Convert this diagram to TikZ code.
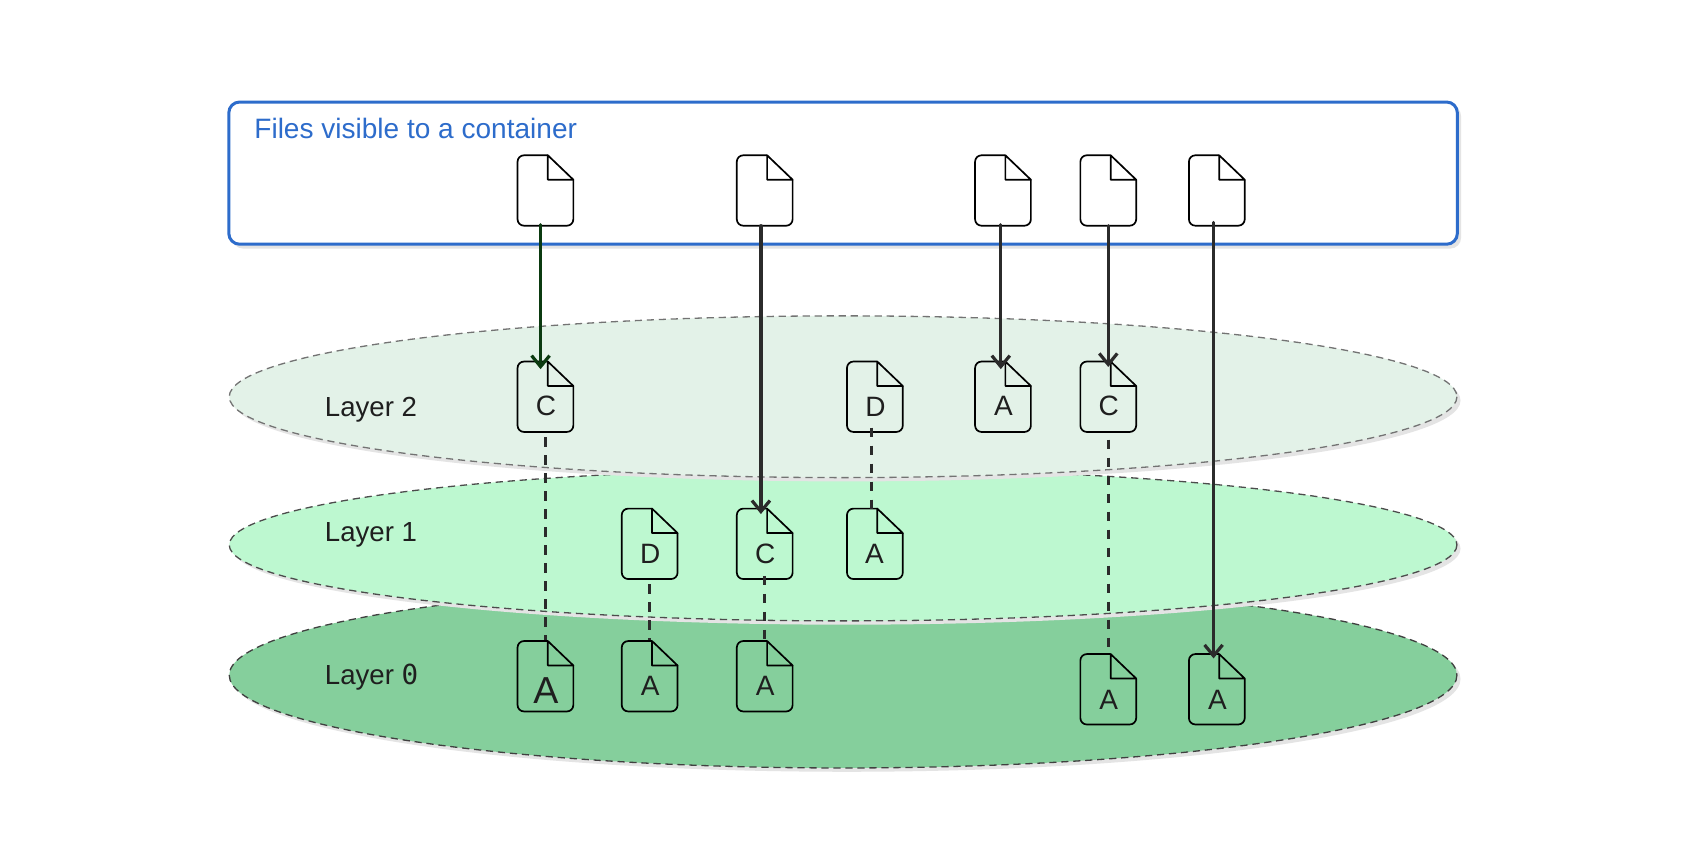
\documentclass[tikz,border=0pt]{standalone}
\usepackage{fontspec}
\setmainfont{Liberation Sans}
\newfontfamily\zeromono{DejaVu Sans Mono}
\usetikzlibrary{arrows.meta,calc}
\definecolor{boxblue}{HTML}{2D6CCB}
\definecolor{inkdark}{HTML}{2B2B2B}
\definecolor{inkgreen}{HTML}{0B3A10}
\definecolor{layertwo}{HTML}{E3F2E8}
\definecolor{layerone}{HTML}{BDF8D0}
\definecolor{layerzero}{HTML}{85CF9C}
\definecolor{softshadow}{HTML}{E4E4E4}
\tikzset{
  x=0.54275pt,y=-0.54275pt,
  filecore/.style={inner sep=0pt,outer sep=0pt,minimum width=27.9pt,minimum height=35.2pt,draw=none},
  fileline/.style={draw=black,line width=0.85pt,rounded corners=3.2pt,line join=round},
  foldline/.style={draw=black,line width=0.85pt,line join=round},
  letter/.style={font=\fontsize{14pt}{16pt}\selectfont,text=black!88,inner sep=0pt},
  bigletter/.style={font=\fontsize{18.8pt}{20pt}\selectfont,text=black!88,inner sep=0pt},
  layerlabel/.style={font=\fontsize{13.8pt}{16pt}\selectfont,text=black!88,inner sep=0pt,anchor=base west},
  arrowline/.style={draw=inkdark,line width=1.6pt,line cap=round,-{Straight Barb[length=5.5pt,width=9pt,line width=1.6pt]}},
  greenarrow/.style={arrowline,draw=inkgreen},
  dashline/.style={draw=inkdark,line width=1.6pt,dash pattern=on 4.8pt off 4.2pt},
  layerdisc/.style={line width=0.65pt,dash pattern=on 3.6pt off 2.4pt},
}
\newcommand{\filedoc}[3]{%
  \node[filecore] (#1) at (#2,#3) {};
  \draw[fileline] ($(#1.north east)+(-23.5,0)$) -- (#1.north west) -- (#1.south west) -- (#1.south east) -- ($(#1.north east)+(0,22.5)$);
  \draw[foldline] ($(#1.north east)+(0,22.5)$) -- ($(#1.north east)+(-23.5,0)$) -- ($(#1.north east)+(-23.5,22.5)$) -- cycle;
}
\begin{document}
\begin{tikzpicture}
\useasboundingbox[fill=white] (0,0) rectangle (1568.9,794.1);
% container box
\fill[softshadow,rounded corners=5.4pt] (214,97) rectangle (1346,229);
\node[draw=boxblue,fill=white,line width=1.5pt,rounded corners=5.4pt,minimum width=614.3pt,minimum height=71.1pt,inner sep=0pt] (box) at (776.7,159.5) {};
\node[font=\fontsize{14.02pt}{16pt}\selectfont,text=boxblue,inner sep=0pt,anchor=base west] (boxtitle) at (234,127.5) {Files visible to a container};
% layers
\fill[softshadow] (780,625.5) ellipse [x radius=565.5,y radius=85.5];
\path[fill=layerzero,draw=black!75,layerdisc] (776.7,622) ellipse [x radius=565.5,y radius=85.5];
\fill[softshadow] (780,505.5) ellipse [x radius=565.5,y radius=70];
\path[fill=layerone,draw=black!70,layerdisc] (776.7,502) ellipse [x radius=565.5,y radius=70];
\fill[softshadow] (780,369) ellipse [x radius=565.5,y radius=74.5];
\path[fill=layertwo,draw=black!55,layerdisc] (776.7,365.5) ellipse [x radius=565.5,y radius=74.5];
\node[layerlabel] (ltwo) at (299,384) {Layer 2};
\node[layerlabel] (lone) at (299,498.5) {Layer 1};
\node[layerlabel] (lzero) at (299,630.5) {Layer {\zeromono\fontsize{13.8pt}{16pt}\selectfont 0}};
% files
\filedoc{t1}{502.5}{175.5}
\filedoc{t2}{704.5}{175.5}
\filedoc{t3}{924}{175.5}
\filedoc{t4}{1021}{175.5}
\filedoc{t5}{1121}{175.5}
\filedoc{a1}{502.5}{365.5}
\filedoc{a2}{806}{365.5}
\filedoc{a3}{924}{365.5}
\filedoc{a4}{1021}{365.5}
\filedoc{b1}{598.5}{501}
\filedoc{b2}{704.5}{501}
\filedoc{b3}{806}{501}
\filedoc{c1}{502.5}{623}
\filedoc{c2}{598.5}{623}
\filedoc{c3}{704.5}{623}
\filedoc{c4}{1021}{635}
\filedoc{c5}{1121}{635}
% letters
\node[letter] (la1) at ($(a1.center)+(0.5,8.5)$) {C};
\node[letter] (la2) at ($(a2.center)+(0.5,9)$) {D};
\node[letter] (la3) at ($(a3.center)+(0.5,8.5)$) {A};
\node[letter] (la4) at ($(a4.center)+(0.5,8.5)$) {C};
\node[letter] (lb1) at ($(b1.center)+(0.5,9.5)$) {D};
\node[letter] (lb2) at ($(b2.center)+(0.5,9.5)$) {C};
\node[letter] (lb3) at ($(b3.center)+(-0.5,9.5)$) {A};
\node[bigletter] (lc1) at ($(c1.center)+(0.5,13.5)$) {A};
\node[letter] (lc2) at ($(c2.center)+(0.5,9)$) {A};
\node[letter] (lc3) at ($(c3.center)+(0.5,9)$) {A};
\node[letter] (lc4) at ($(c4.center)+(0.5,9.5)$) {A};
\node[letter] (lc5) at ($(c5.center)+(0.5,9.5)$) {A};
% dashed
\draw[dashline] ($(a1.south)+(0,5)$) -- ($(c1.north)+(0,-1)$);
\draw[dashline] ($(a2.south)+(-3,-4)$) -- ($(b3.north)+(-3,0)$);
\draw[dashline] ($(a4.south)+(0,7)$) -- ($(c4.north)+(0,0)$);
\draw[dashline] ($(b1.south)+(0,5)$) -- ($(c2.north)+(0,-1)$);
\draw[dashline] ($(b2.south)+(0,-3)$) -- ($(c3.north)+(0,0)$);
% arrows
\draw[greenarrow] ($(t1.south)+(-4.5,-1)$) -- ($(a1.north)+(-4.5,7)$);
\draw[arrowline] ($(t2.south)+(-3.5,0)$) -- ($(b2.north)+(-3.5,5)$);
\draw[arrowline] ($(t3.south)+(-2,-1)$) -- ($(a3.north)+(-2,7)$);
\draw[arrowline] ($(t4.south)+(0,0)$) -- ($(a4.north)+(0,5)$);
\draw[arrowline] ($(t5.south)+(-3,-3)$) -- ($(c5.north)+(-3,4)$);
\end{tikzpicture}
\end{document}
